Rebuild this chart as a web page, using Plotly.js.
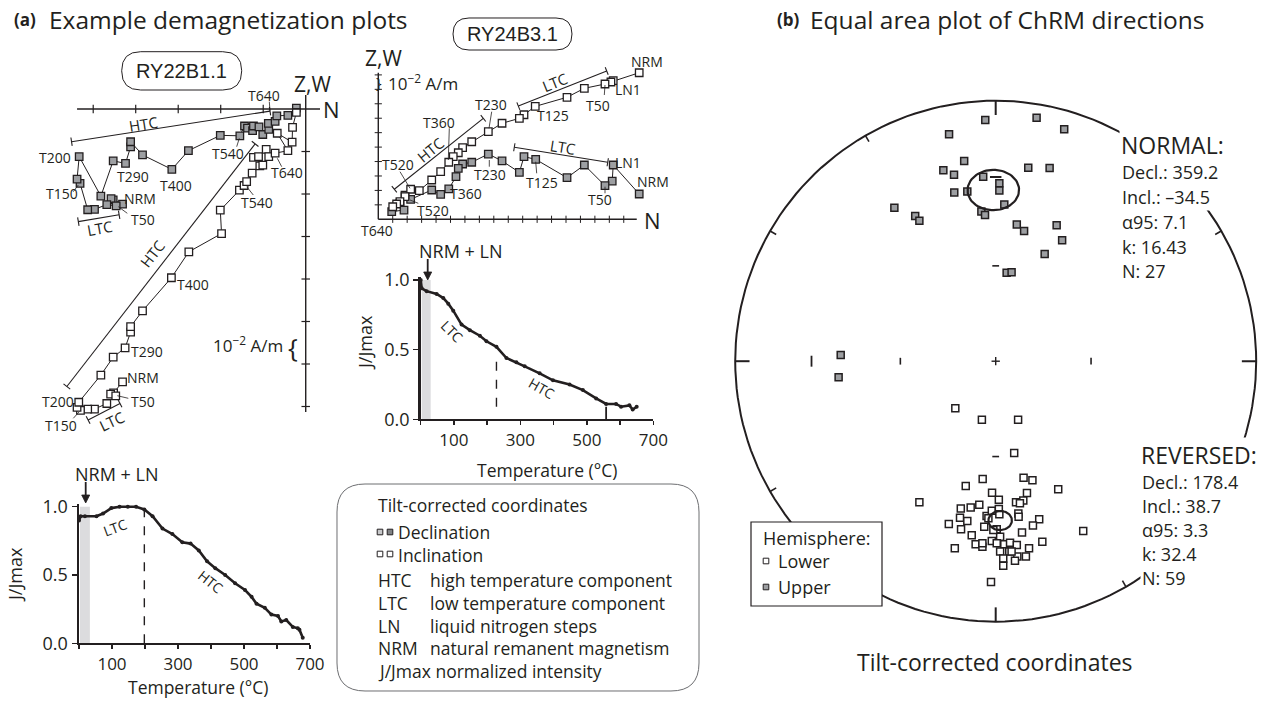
<!DOCTYPE html>
<html><head><meta charset="utf-8">
<script src="https://cdn.plot.ly/plotly-3.0.1.min.js"></script>
<style>html,body{margin:0;padding:0;background:#fff}#chart{width:1264px;height:702px}</style>
</head><body><div id="chart"></div>
<script>
const W=1264,H=702;
const INK='#231f20', GRAY='#9d9fa2';
const FONT='"Open Sans","Noto Sans",sans-serif';
const ARIAL='"Liberation Sans",Arial,sans-serif';

// ---------- DATA ----------
// RY22B1.1 orthogonal (Zijderveld) projection, units = axis tick intervals
const ry22DecN=[-4.31,-4.53,-4.58,-4.46,-4.68,-4.97,-5.13,-5.31,-5.38,-5.33,-4.82,-4.53,-4.24,-4.12,-4.12,-3.84,-3.15,-2.76,-2.01,-1.55,-1.44,-1.37,-1.25,-1.23,-1.10,-1.01,-0.87,-0.88,-0.72,-0.68,-0.42,-0.22];
const ry22DecE=[-2.24,-2.14,-2.11,-2.28,-2.25,-2.36,-2.37,-1.75,-1.65,-1.12,-2.05,-1.22,-1.28,-0.89,-0.77,-1.08,-1.42,-0.98,-0.62,-0.63,-0.40,-0.45,-0.51,-0.40,-0.42,-0.60,-0.48,-0.34,-0.29,-0.16,-0.15,0.02];
const ry22IncN=[-4.31,-4.52,-4.59,-4.47,-4.68,-4.97,-5.13,-5.30,-5.38,-5.34,-4.82,-4.53,-4.25,-4.12,-4.12,-3.84,-3.16,-2.75,-1.98,-2.01,-1.56,-1.45,-1.39,-1.26,-1.08,-1.01,-1.23,-1.11,-0.93,-0.87,-0.72,-0.42,-0.67,-0.32,-0.31,-0.22];
const ry22IncZ=[-6.42,-6.68,-6.71,-6.75,-6.93,-7.06,-7.06,-7.09,-7.02,-6.90,-6.26,-5.84,-5.62,-5.25,-5.12,-4.75,-3.97,-3.36,-2.93,-2.38,-1.91,-1.80,-1.71,-1.51,-1.34,-1.32,-1.14,-1.12,-0.95,-1.12,-1.04,-0.98,-0.57,-0.78,-0.43,-0.08];
const ry22HTCdec=[[-5.51,-0.77],[-0.84,-0.05]];
const ry22LTCdec=[[-5.35,-2.65],[-4.39,-2.49]];
const ry22HTCinc=[[-5.62,-6.53],[-1.19,-0.82]];
const ry22LTCinc=[[-5.12,-7.32],[-4.37,-6.93]];

// RY24B3.1 orthogonal projection (units = 10^-2 A/m ticks)
const ry24IncN=[18.07,16.27,16.11,15.70,14.27,13.07,10.87,10.09,9.77,8.57,7.62,6.47,5.84,5.54,5.19,4.88,4.32,3.70,2.84,2.24,1.85,1.50,1.27,1.00];
const ry24IncZ=[10.15,9.60,9.51,9.37,9.07,8.45,7.82,7.24,6.99,6.65,6.07,5.37,4.96,4.61,4.34,3.95,3.30,2.72,1.98,2.08,1.57,1.22,1.06,0.87];
const ry24DecN=[18.07,16.27,16.20,15.70,14.27,13.07,10.90,10.09,9.77,8.57,7.62,6.47,5.84,5.54,5.38,4.88,4.32,3.70,2.24,1.85,1.50,1.78,0.93];
const ry24DecE=[1.75,3.76,2.65,2.33,3.76,2.88,4.15,4.34,3.25,4.04,4.52,3.95,3.83,3.53,2.95,2.10,1.73,2.03,1.38,1.68,1.11,0.64,0.53];
const ry24HTCinc=[[1.11,2.08],[7.27,6.99]];
const ry24LTCinc=[[9.70,7.84],[15.82,10.27]];
const ry24LTCdec=[[9.42,4.99],[15.89,3.95]];

// Normalized intensity curves
const ry24Temp=[0,3,18,48,68,83,98,123,148,178,198,228,258,288,313,358,398,448,488,528,558,588,603,628,638,650];
const ry24J=[1.0,0.94,0.92,0.90,0.87,0.83,0.78,0.68,0.64,0.60,0.56,0.52,0.44,0.41,0.38,0.33,0.28,0.25,0.21,0.15,0.11,0.11,0.09,0.10,0.07,0.09];
const ry22Temp=[0,5,18,53,73,98,123,148,173,198,223,253,283,313,338,363,388,413,443,473,503,523,538,563,583,603,613,628,648,663,668,678];
const ry22J=[0.90,0.93,0.93,0.93,0.95,0.99,1.00,1.00,1.00,0.98,0.93,0.84,0.80,0.74,0.73,0.68,0.60,0.55,0.50,0.44,0.39,0.34,0.29,0.26,0.21,0.20,0.16,0.17,0.12,0.11,0.10,0.04];
const tempLabelTicks=[100,300,500,700];
const tempMinorTicks=[0,200,400,600];
const jTicks=[0,0.5,1.0];
const jTickText=['0.0','0.5','1.0'];

// Equal-area projected ChRM directions (unit-circle coords, x = east, y = north)
const upX=[-0.040,0.157,0.263,-0.179,-0.121,-0.201,-0.160,-0.048,0.014,0.014,-0.159,-0.109,0.125,0.207,0.033,-0.055,-0.041,-0.389,-0.309,-0.293,0.081,0.109,0.234,0.255,0.188,0.042,0.061,-0.595,-0.603];
const upY=[0.926,0.935,0.890,0.871,0.769,0.733,0.716,0.708,0.683,0.655,0.648,0.651,0.743,0.742,0.602,0.575,0.561,0.589,0.557,0.539,0.525,0.500,0.522,0.464,0.412,0.340,0.341,0.024,-0.062];
const loX=[-0.155,-0.053,0.086,0.071,-0.050,-0.115,0.107,0.141,0.240,-0.014,0.120,-0.293,-0.134,-0.096,-0.063,0.012,0.078,0.106,-0.137,-0.109,-0.180,-0.133,-0.035,-0.015,0.012,0.087,0.088,0.167,0.143,-0.044,0.004,0.101,-0.092,-0.077,-0.051,-0.015,0.017,0.033,0.055,0.081,0.128,0.179,-0.157,0.017,0.052,0.083,0.116,0.074,0.029,0.029,-0.018,0.336,-0.028,0.014,-0.009,0.061,0.093,-0.051,0.004];
const loY=[-0.181,-0.225,-0.225,-0.352,-0.452,-0.479,-0.447,-0.457,-0.492,-0.505,-0.506,-0.541,-0.565,-0.562,-0.551,-0.532,-0.541,-0.535,-0.601,-0.613,-0.625,-0.645,-0.594,-0.574,-0.567,-0.585,-0.597,-0.607,-0.631,-0.636,-0.645,-0.658,-0.668,-0.703,-0.712,-0.690,-0.674,-0.703,-0.697,-0.706,-0.718,-0.693,-0.718,-0.731,-0.731,-0.750,-0.750,-0.766,-0.757,-0.785,-0.848,-0.652,-0.603,-0.588,-0.648,-0.731,-0.545,-0.699,-0.699];
const normalMean={dec:359.2,inc:-34.5,a95:7.1,k:16.43,n:27};
const reversedMean={dec:178.4,inc:38.7,a95:3.3,k:32.4,n:59};

// ---------- helpers ----------
const fx=p=>p/W, fy=p=>1-p/H;
const dom=(a,b)=>[a/W,b/W], domY=(a,b)=>[1-b/H,1-a/H];
function lab(text,x,y,o){return Object.assign({text:text,x:fx(x),y:fy(y),xref:'paper',yref:'paper',showarrow:false,xanchor:'center',yanchor:'middle',font:{family:FONT,size:14,color:INK}},o||{});}
function font(s,extra){return Object.assign({family:FONT,size:s,color:INK},extra||{});}
const P=(x,y)=>fx(x).toFixed(5)+','+fy(y).toFixed(5);
function rr(x0,y0,x1,y1,r){
  return 'M'+P(x0+r,y0)+' L'+P(x1-r,y0)+' Q'+P(x1,y0)+' '+P(x1,y0+r)+' L'+P(x1,y1-r)+' Q'+P(x1,y1)+' '+P(x1-r,y1)+' L'+P(x0+r,y1)+' Q'+P(x0,y1)+' '+P(x0,y1-r)+' L'+P(x0,y0+r)+' Q'+P(x0,y0)+' '+P(x0+r,y0)+' Z';
}
function zij(xs,ys,fill,xa,ya){return {type:'scatter',mode:'lines+markers',x:xs,y:ys,xaxis:xa,yaxis:ya,cliponaxis:false,
  line:{color:INK,width:1},marker:{symbol:'square',size:7.5,color:fill,line:{color:INK,width:1.3}},hoverinfo:'skip'};}
function comp(seg,cap,xa,ya){
  const [a,b]=seg; const dx=b[0]-a[0], dy=b[1]-a[1], L=Math.hypot(dx,dy); const nx=-dy/L*cap, ny=dx/L*cap;
  return {type:'scatter',mode:'lines',xaxis:xa,yaxis:ya,cliponaxis:false,line:{color:INK,width:1.1},hoverinfo:'skip',
   x:[a[0],b[0],null,a[0]-nx,a[0]+nx,null,b[0]-nx,b[0]+nx], y:[a[1],b[1],null,a[1]-ny,a[1]+ny,null,b[1]-ny,b[1]+ny]};
}
function seg(x0,y0,x1,y1,xr,yr,w,dash){return {type:'line',xref:xr,yref:yr,x0:x0,y0:y0,x1:x1,y1:y1,line:{color:INK,width:w||1.3,dash:dash||'solid'}};}
function lead(x0,y0,x1,y1){return {type:'line',xref:'paper',yref:'paper',x0:fx(x0),y0:fy(y0),x1:fx(x1),y1:fy(y1),line:{color:INK,width:0.8}};}
function downArrow(x,yTop,yTip){return [
  {type:'line',xref:'paper',yref:'paper',x0:fx(x),x1:fx(x),y0:fy(yTop),y1:fy(yTip-6),line:{color:INK,width:1.8}},
  {type:'path',xref:'paper',yref:'paper',path:'M'+P(x-4,yTip-8)+' L'+P(x+4,yTip-8)+' L'+P(x,yTip)+' Z',fillcolor:INK,line:{color:INK,width:0.8}}];}
function eaProj(decDeg,incDeg){const r=Math.SQRT2*Math.sin((90-Math.abs(incDeg))/2*Math.PI/180);const d=decDeg*Math.PI/180;return [r*Math.sin(d),r*Math.cos(d)];}
function cone(m){
  const rad=Math.PI/180, D=m.dec*rad, I=m.inc*rad, a=m.a95*rad;
  const mv=[Math.cos(I)*Math.cos(D),Math.cos(I)*Math.sin(D),Math.sin(I)];
  let u=[-Math.sin(I)*Math.cos(D),-Math.sin(I)*Math.sin(D),Math.cos(I)];
  const v=[mv[1]*u[2]-mv[2]*u[1],mv[2]*u[0]-mv[0]*u[2],mv[0]*u[1]-mv[1]*u[0]];
  const xs=[],ys=[];
  for(let k=0;k<=72;k++){const p=k*5*rad;const d=[0,1,2].map(i=>Math.cos(a)*mv[i]+Math.sin(a)*(Math.cos(p)*u[i]+Math.sin(p)*v[i]));
    const inc=Math.asin(d[2])/rad, dec=Math.atan2(d[1],d[0])/rad; const q=eaProj(dec,inc); xs.push(q[0]); ys.push(q[1]);}
  return {type:'scatter',mode:'lines',x:xs,y:ys,xaxis:'x5',yaxis:'y5',line:{color:INK,width:2.2},hoverinfo:'skip'};
}

// ---------- traces ----------
const traces=[];
traces.push(comp(ry22HTCdec,0.1,'x','y'),comp(ry22LTCdec,0.1,'x','y'),comp(ry22HTCinc,0.1,'x','y'),comp(ry22LTCinc,0.1,'x','y'));
traces.push(zij(ry22DecN,ry22DecE,GRAY,'x','y'),zij(ry22IncN,ry22IncZ,'#ffffff','x','y'));
traces.push(comp(ry24HTCinc,0.28,'x2','y2'),comp(ry24LTCinc,0.28,'x2','y2'),comp(ry24LTCdec,0.28,'x2','y2'));
traces.push(zij(ry24DecN,ry24DecE,GRAY,'x2','y2'),zij(ry24IncN,ry24IncZ,'#ffffff','x2','y2'));
const jline=(xs,ys,xa,ya)=>({type:'scatter',mode:'lines+markers',x:xs,y:ys,xaxis:xa,yaxis:ya,cliponaxis:false,line:{color:INK,width:2.6},marker:{size:4,color:INK},hoverinfo:'skip'});
traces.push(jline(ry24Temp,ry24J,'x3','y3'),jline(ry22Temp,ry22J,'x4','y4'));
{const cx=[],cy=[];for(let k=0;k<=360;k+=2){cx.push(Math.sin(k*Math.PI/180));cy.push(Math.cos(k*Math.PI/180));}
 traces.push({type:'scatter',mode:'lines',x:cx,y:cy,xaxis:'x5',yaxis:'y5',line:{color:INK,width:2},hoverinfo:'skip'});}
const sq=(xs,ys,fill)=>({type:'scatter',mode:'markers',x:xs,y:ys,xaxis:'x5',yaxis:'y5',cliponaxis:false,marker:{symbol:'square',size:7,color:fill,line:{color:INK,width:1.5}},hoverinfo:'skip'});
traces.push(sq(upX,upY,GRAY),sq(loX,loY,'#ffffff'));
traces.push(cone(normalMean),cone(reversedMean));

// ---------- shapes ----------
const shapes=[];
shapes.push(seg(-5.38,0,0.336,0,'x','y',1.4), seg(0,0.33,0,-7.13,'x','y',1.4));
for(let i=1;i<=5;i++) shapes.push(seg(-i,-0.1,-i,0.1,'x','y',1.2));
for(let i=1;i<=7;i++) shapes.push(seg(-0.1,-i,0.1,-i,'x','y',1.2));
shapes.push(seg(0,0,17.9,0,'x2','y2',1.4), seg(0,0,0,10.15,'x2','y2',1.4));
for(let i=1;i<=17;i++) shapes.push(seg(i,-0.25,i,0.25,'x2','y2',1));
for(let i=1;i<=10;i++) shapes.push(seg(-0.25,i,0.25,i,'x2','y2',1));
shapes.push({type:'rect',xref:'x3',yref:'y3',x0:3,x1:30,y0:0,y1:1.0,fillcolor:'#dcdcde',line:{width:0},layer:'below'});
shapes.push({type:'rect',xref:'x4',yref:'y4',x0:3,x1:33,y0:0,y1:1.0,fillcolor:'#dcdcde',line:{width:0},layer:'below'});
shapes.push(seg(228,0.09,228,0.47,'x3','y3',1.4,'dash'), seg(558,0,558,0.09,'x3','y3',1.8));
shapes.push(seg(198,0,198,0.97,'x4','y4',1.4,'dash'));
shapes.push(...downArrow(427.7,259,280), ...downArrow(85.7,482,503));
for(let az=0;az<360;az+=30){const big=az%90===0, L=big?0.055:0.027, a=az*Math.PI/180;
  shapes.push(seg(Math.sin(a),Math.cos(a),(1-L)*Math.sin(a),(1-L)*Math.cos(a),'x5','y5',big?2:1.6));}
shapes.push(seg(-0.016,0,0.016,0,'x5','y5',1.4), seg(0,-0.016,0,0.016,'x5','y5',1.4));
const r60=Math.SQRT2*Math.sin(15*Math.PI/180), r30=Math.SQRT2*Math.sin(30*Math.PI/180);
shapes.push(seg(-r60,-0.013,-r60,0.013,'x5','y5',1.6), seg(r60,-0.013,r60,0.013,'x5','y5',1.6));
shapes.push(seg(-0.013,r60,0.013,r60,'x5','y5',1.6), seg(-0.013,-r60,0.013,-r60,'x5','y5',1.6));
shapes.push(seg(-r30,-0.021,-r30,0.021,'x5','y5',1.8), seg(-0.022,r30,0.022,r30,'x5','y5',1.8));
shapes.push(lead(269.3,101.7,270,110.7), lead(236.7,146.7,239.3,138.3), lead(281.7,166.7,277.3,158.3), lead(253.3,195,246.7,186.7),
  lead(127.3,213.3,118.3,206.7), lead(73.3,191.7,78.3,185), lead(128.3,398.3,117.3,395.7), lead(73.3,418.3,79.3,411.7),
  lead(491.7,111.7,489,128.3), lead(449.3,128.3,448.3,160), lead(400,171.7,410,188.3), lead(604.3,95,605,85),
  lead(489.3,160,489.3,166.7), lead(536.7,173.3,535.7,161.7), lead(418.3,203.3,410,200), lead(605,193.3,605,186.7));
shapes.push({type:'path',xref:'paper',yref:'paper',path:rr(121.7,51.7,241.7,90,19),line:{color:INK,width:1},fillcolor:'rgba(0,0,0,0)'});
shapes.push({type:'path',xref:'paper',yref:'paper',path:rr(453,18,572,50,16),line:{color:INK,width:1},fillcolor:'rgba(0,0,0,0)'});
shapes.push({type:'path',xref:'paper',yref:'paper',path:rr(337,484,699,691,28),line:{color:'#6d6e71',width:1},fillcolor:'rgba(0,0,0,0)'});
shapes.push({type:'rect',xref:'paper',yref:'paper',x0:fx(751),x1:fx(882),y0:fy(522),y1:fy(606),fillcolor:'#ffffff',line:{color:INK,width:1.2},layer:'above'});
const psq=(x,y,fill)=>({type:'rect',xref:'paper',yref:'paper',x0:fx(x-2.8),x1:fx(x+2.8),y0:fy(y-2.8),y1:fy(y+2.8),fillcolor:fill,line:{color:INK,width:1},layer:'above'});
shapes.push(psq(380,532,'#c7c8ca'),psq(390,532,'#808285'),psq(380,554,'#ffffff'),psq(390,554,'#ffffff'));
shapes.push(psq(766,561,'#ffffff'),psq(766,587,GRAY));

// ---------- annotations ----------
const A=[];
A.push(lab('<b>(a)</b>',12,19,{xanchor:'left',font:font(17)}));
A.push(lab('Example demagnetization plots',47,19,{xanchor:'left',font:font(24.5)}));
A.push(lab('<b>(b)</b>',775,19,{xanchor:'left',font:font(17)}));
A.push(lab('Equal area plot of ChRM directions',808,19,{xanchor:'left',font:font(24.5)}));
A.push(lab('RY22B1.1',181.7,71,{font:{family:ARIAL,size:20,color:INK}}));
A.push(lab('RY24B3.1',512.5,34,{font:{family:ARIAL,size:20,color:INK}}));
A.push(lab('Z,W',312,84,{font:font(21)}), lab('N',331,109,{font:font(22)}));
[['T640',264,95],['T200',55,157],['T290',133,176],['T400',176,185],['T540',228,153],['T640',287,173],['T150',62,193],['NRM',140,198],['T50',143,219],['T540',257,202],
 ['T400',193,284],['T290',147,351],['NRM',143,377],['T200',58,401],['T50',143,401],['T150',61,425]].forEach(t=>A.push(lab(t[0],t[1],t[2])));
A.push(lab('HTC',143,124,{textangle:-9,font:font(15)}), lab('LTC',100,228,{textangle:-10,font:font(15)}));
A.push(lab('HTC',152,254,{textangle:-52,font:font(15)}), lab('LTC',112,421,{textangle:-25,font:font(15)}));
A.push(lab('10<sup>−2</sup> A/m',248,344,{font:font(17)}), lab('{',293,347,{font:font(26)}));
A.push(lab('Z,W',383,58,{font:font(21)}), lab('N',652,220,{font:font(22)}));
A.push(lab('}',379,82,{font:font(15)}), lab('10<sup>−2</sup> A/m',386,83,{xanchor:'left',font:font(17)}));
[['NRM',647,62],['LN1',628,89],['T50',598,105],['T125',553,116],['T230',491,104],['T360',439,122],['T520',398,164],
 ['LN1',628,162],['NRM',653,181],['T230',490,174],['T125',542,182],['T360',466,193],['T520',433,210],['T50',600,200],['T640',377,231]].forEach(t=>A.push(lab(t[0],t[1],t[2])));
A.push(lab('LTC',555,82,{textangle:-22,font:font(15)}), lab('HTC',430,150,{textangle:-39,font:font(15)}), lab('LTC',563,147,{textangle:9,font:font(15)}));
A.push(lab('NRM + LN',460,251,{font:font(18)}));
A.push({text:'LTC',x:95,y:0.63,xref:'x3',yref:'y3',showarrow:false,textangle:45,font:font(14)});
A.push({text:'HTC',x:365,y:0.22,xref:'x3',yref:'y3',showarrow:false,textangle:30,font:font(14)});
A.push(lab('J/Jmax',365,343,{textangle:-90,font:font(18)}), lab('Temperature (°C)',547,470,{font:font(17.5)}));
A.push(lab('NRM + LN',117,474,{font:font(18)}));
A.push({text:'LTC',x:108,y:0.85,xref:'x4',yref:'y4',showarrow:false,textangle:-20,font:font(14)});
A.push({text:'HTC',x:398,y:0.45,xref:'x4',yref:'y4',showarrow:false,textangle:38,font:font(14)});
A.push(lab('J/Jmax',15,575,{textangle:-90,font:font(18)}), lab('Temperature (°C)',198,687,{font:font(17.5)}));
A.push(lab('Tilt-corrected coordinates',376,505,{xanchor:'left',font:font(17.5)}));
A.push(lab('Declination',396,532,{xanchor:'left',font:font(17.5)}), lab('Inclination',396,555,{xanchor:'left',font:font(17.5)}));
[['HTC','high temperature component',580],['LTC','low temperature component',603],['LN','liquid nitrogen steps',626],['NRM','natural remanent magnetism',648]].forEach(t=>{
  A.push(lab(t[0],376,t[2],{xanchor:'left',font:font(17.5)}), lab(t[1],428,t[2],{xanchor:'left',font:font(17.5)}));});
A.push(lab('J/Jmax normalized intensity',376,671,{xanchor:'left',font:font(17.5)}));
const wb={bgcolor:'#ffffff',borderpad:1};
A.push(lab('NORMAL:',1119,145,Object.assign({xanchor:'left',font:font(23)},wb)));
A.push(lab('Decl.: '+normalMean.dec.toFixed(1),1120,172,Object.assign({xanchor:'left',font:font(18)},wb)));
A.push(lab('Incl.: –'+Math.abs(normalMean.inc).toFixed(1),1120,197,Object.assign({xanchor:'left',font:font(18)},wb)));
A.push(lab('α95: '+normalMean.a95,1120,222,Object.assign({xanchor:'left',font:font(18)},wb)));
A.push(lab('k: '+normalMean.k,1120,247,Object.assign({xanchor:'left',font:font(18)},wb)));
A.push(lab('N: '+normalMean.n,1120,271,Object.assign({xanchor:'left',font:font(18)},wb)));
A.push(lab('REVERSED:',1139,455,Object.assign({xanchor:'left',font:font(23)},wb)));
A.push(lab('Decl.: '+reversedMean.dec.toFixed(1),1140,482,Object.assign({xanchor:'left',font:font(18)},wb)));
A.push(lab('Incl.: '+reversedMean.inc.toFixed(1),1140,506,Object.assign({xanchor:'left',font:font(18)},wb)));
A.push(lab('α95: '+reversedMean.a95,1140,530,Object.assign({xanchor:'left',font:font(18)},wb)));
A.push(lab('k: '+reversedMean.k,1140,554,Object.assign({xanchor:'left',font:font(18)},wb)));
A.push(lab('N: '+reversedMean.n,1140,578,Object.assign({xanchor:'left',font:font(18)},wb)));
A.push(lab('Hemisphere:',761,538,{xanchor:'left',font:font(18)}));
A.push(lab('Lower',776,561,{xanchor:'left',font:font(18)}), lab('Upper',776,587,{xanchor:'left',font:font(18)}));
A.push(lab('Tilt-corrected coordinates',995,662,{font:font(23)}));

// ---------- layout ----------
const hid={visible:false,fixedrange:true};
const jx={showline:true,linewidth:2,linecolor:INK,ticks:'outside',ticklen:4,tickwidth:1.5,tickcolor:INK,tickmode:'array',tickvals:tempLabelTicks,tickfont:font(17),
  minor:{tickmode:'array',tickvals:tempMinorTicks,ticks:'outside',ticklen:4,tickwidth:1.5,tickcolor:INK,showgrid:false},
  showgrid:false,zeroline:false,fixedrange:true,range:[0,700]};
const jy={showline:true,linewidth:2.5,linecolor:INK,ticks:'outside',ticklen:5,tickwidth:1.5,tickcolor:INK,tickmode:'array',tickvals:jTicks,ticktext:jTickText,tickfont:font(18),showgrid:false,zeroline:false,fixedrange:true,range:[0,1.02]};
const layout={width:W,height:H,margin:{l:0,r:0,t:0,b:0},paper_bgcolor:'#ffffff',plot_bgcolor:'rgba(0,0,0,0)',showlegend:false,
 xaxis:Object.assign({domain:dom(40,335),range:[-6.252,0.689]},hid),
 yaxis:Object.assign({domain:domY(55,430),range:[-7.553,1.271]},hid),
 xaxis2:Object.assign({domain:dom(360,700),range:[-1.267,22.28]},hid),
 yaxis2:Object.assign({domain:domY(40,240),range:[-1.434,12.417]},hid),
 xaxis3:Object.assign({},jx,{domain:dom(420.7,653.3),anchor:'y3'}),
 yaxis3:Object.assign({},jy,{domain:domY(277.2,419.3),anchor:'x3'}),
 xaxis4:Object.assign({},jx,{domain:dom(79,310),anchor:'y4'}),
 yaxis4:Object.assign({},jy,{domain:domY(504,643.3),anchor:'x4'}),
 xaxis5:Object.assign({domain:dom(730,1261.4),range:[-1.02,1.02]},hid),
 yaxis5:Object.assign({domain:domY(95.5,626.9),range:[-1.02,1.02]},hid),
 shapes:shapes,annotations:A};
Plotly.newPlot('chart',traces,layout,{staticPlot:true,displayModeBar:false});
</script></body></html>
